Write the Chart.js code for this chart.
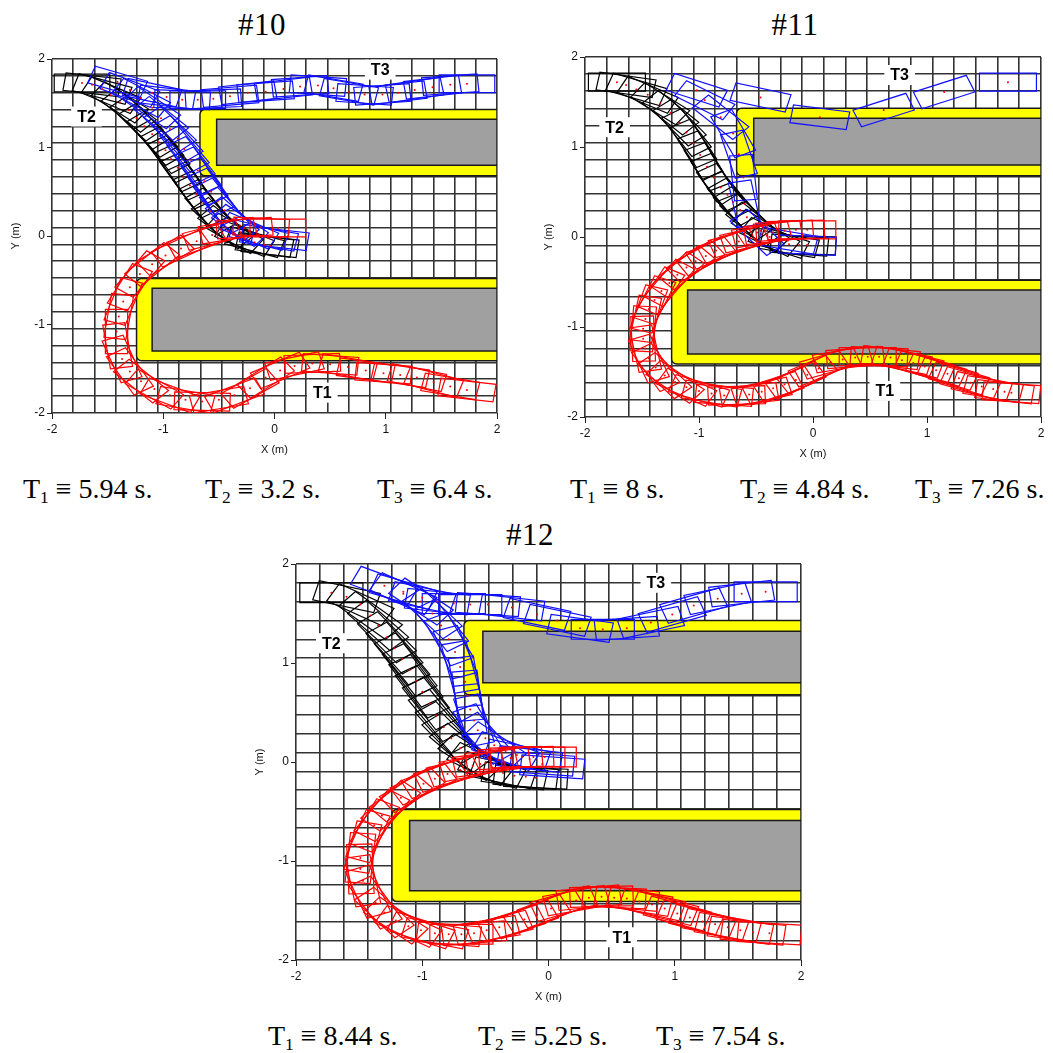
<!DOCTYPE html>
<html>
<head>
<meta charset="utf-8">
<script src="https://cdn.jsdelivr.net/npm/chart.js@4.4.1/dist/chart.umd.min.js"></script>
<style>
  body { margin: 0; background: #fff; }
  #page { position: relative; width: 1053px; height: 1053px; font-family: "Liberation Serif", "Times New Roman", serif; color: #000; }
  canvas { position: absolute; }
  .ttl, .cap { position: absolute; white-space: nowrap; }
  .ttl { transform: translateX(-50%); font-size: 31px; line-height: 31px; letter-spacing: 0.5px; }
  .cap { font-size: 28px; line-height: 28px; }
  .cap i { font-style: normal; font-size: 0.62em; position: relative; top: 0.3em; }
</style>
</head>
<body>
<div id="page">
  <div class="ttl" style="left:262px;top:9px">#10</div>
  <div class="ttl" style="left:795px;top:9px">#11</div>
  <div class="ttl" style="left:530px;top:519px">#12</div>

  <canvas id="run10" width="507" height="412" style="left:0px;top:49px"></canvas>
  <canvas id="run11" width="518" height="418" style="left:533px;top:47px"></canvas>
  <canvas id="run12" width="567" height="454" style="left:244px;top:554px"></canvas>

  <div class="cap" style="left:23px;top:475px">T<i>1</i> ≡ 5.94 s.</div>
  <div class="cap" style="left:205px;top:475px">T<i>2</i> ≡ 3.2 s.</div>
  <div class="cap" style="left:377px;top:475px">T<i>3</i> ≡ 6.4 s.</div>
  <div class="cap" style="left:570px;top:475px">T<i>1</i> ≡ 8 s.</div>
  <div class="cap" style="left:740px;top:475px">T<i>2</i> ≡ 4.84 s.</div>
  <div class="cap" style="left:915px;top:475px">T<i>3</i> ≡ 7.26 s.</div>
  <div class="cap" style="left:268px;top:1022px">T<i>1</i> ≡ 8.44 s.</div>
  <div class="cap" style="left:478px;top:1022px">T<i>2</i> ≡ 5.25 s.</div>
  <div class="cap" style="left:656px;top:1022px">T<i>3</i> ≡ 7.54 s.</div>
</div>
<script>
// vehicle footprint (m)
const CAR_LEN = 0.5;
const CAR_WID = 0.2;
const GRID_CELLS = 21;
const TAG_NAMES = ['T1', 'T2', 'T3'];

// obstacles [x0, y0, x1, y1] in metres
const WALL_OUTER = [[-0.67, 0.68, 2, 1.43], [-1.24, -1.41, 2, -0.48]];
const WALL_INNER = [[-0.52, 0.80, 2, 1.32], [-1.10, -1.30, 2, -0.59]];

// poses [x, y, heading in degrees]
const run10_T1 = [[0.03,0.09,0],[-0.12,0.10,-3],[-0.27,0.09,5],[-0.42,0.06,12],[-0.56,0.01,18],[-0.70,-0.06,24],[-0.84,-0.14,30],[-0.98,-0.22,37],[-1.10,-0.32,45],[-1.21,-0.43,55],[-1.30,-0.58,63],[-1.36,-0.74,72],[-1.40,-0.91,82],[-1.42,-1.08,90],[-1.41,-1.24,-82],[-1.37,-1.39,-70],[-1.30,-1.53,-60],[-1.20,-1.64,-45],[-1.08,-1.73,-35],[-0.94,-1.80,-25],[-0.80,-1.85,-12],[-0.65,-1.87,-2],[-0.50,-1.85,12],[-0.36,-1.80,25],[-0.22,-1.72,35],[-0.08,-1.60,38],[0.05,-1.52,28],[0.18,-1.47,15],[0.34,-1.44,3],[0.50,-1.45,-5],[0.66,-1.48,-12],[0.82,-1.52,-10],[0.98,-1.55,-5],[1.13,-1.57,-10],[1.28,-1.60,-14],[1.43,-1.65,-18],[1.58,-1.70,-12],[1.73,-1.74,-8]];
const run10_T2 = [[-1.73,1.73,0],[-1.64,1.71,-8],[-1.55,1.66,-18],[-1.47,1.59,-28],[-1.39,1.51,-38],[-1.31,1.42,-45],[-1.24,1.33,-50],[-1.17,1.24,-52],[-1.10,1.15,-53],[-1.04,1.06,-55],[-0.98,0.97,-57],[-0.93,0.87,-59],[-0.87,0.77,-60],[-0.82,0.67,-60],[-0.76,0.57,-60],[-0.70,0.47,-59],[-0.64,0.37,-58],[-0.58,0.28,-55],[-0.51,0.18,-50],[-0.44,0.10,-44],[-0.36,0.03,-36],[-0.27,-0.03,-27],[-0.18,-0.07,-18],[-0.09,-0.10,-10],[-0.04,-0.11,-8]];
const run10_T3 = [[0.05,-0.03,-8],[-0.05,-0.02,-12],[-0.14,0.01,-18],[-0.23,0.06,-28],[-0.31,0.12,-40],[-0.38,0.19,-48],[-0.45,0.29,-55],[-0.51,0.39,-58],[-0.57,0.50,-60],[-0.63,0.62,-60],[-0.69,0.74,-60],[-0.75,0.86,-58],[-0.81,0.98,-56],[-0.87,1.10,-54],[-0.94,1.21,-50],[-1.02,1.33,-45],[-1.10,1.45,-40],[-1.20,1.56,-33],[-1.30,1.65,-25],[-1.41,1.74,-20],
  [-1.10,1.62,-15],[-0.97,1.57,-8],[-0.83,1.54,-3],[-0.69,1.54,0],[-0.55,1.55,3],[-0.40,1.58,6],[-0.24,1.62,8],[-0.08,1.63,5],[0.08,1.66,8],[0.23,1.69,5],[0.39,1.70,-5],[0.53,1.67,-12],[0.67,1.63,-12],[0.81,1.60,-5],[0.97,1.60,5],[1.11,1.62,8],[1.26,1.65,10],[1.42,1.68,8],[1.58,1.71,5],[1.73,1.72,0]];

const run11_T1 = [[-0.05,0.08,0],[-0.15,0.08,2],[-0.25,0.07,4],[-0.35,0.05,8],[-0.45,0.03,12],[-0.55,-0.01,16],[-0.65,-0.05,20],[-0.75,-0.10,24],[-0.85,-0.15,28],[-0.94,-0.21,33],[-1.03,-0.27,38],[-1.11,-0.34,44],[-1.19,-0.42,50],[-1.26,-0.51,56],[-1.33,-0.60,62],[-1.39,-0.70,68],[-1.44,-0.80,74],[-1.47,-0.91,80],[-1.49,-1.02,86],[-1.49,-1.13,-88],[-1.47,-1.24,-80],[-1.44,-1.35,-70],[-1.38,-1.45,-60],[-1.30,-1.54,-50],[-1.21,-1.61,-40],[-1.11,-1.67,-30],[-1.00,-1.71,-20],[-0.89,-1.74,-12],[-0.78,-1.76,-5],[-0.67,-1.76,2],[-0.56,-1.75,8],[-0.45,-1.72,15],[-0.35,-1.68,22],[-0.25,-1.64,27],[-0.15,-1.59,30],[-0.05,-1.53,32],[0.05,-1.46,28],[0.15,-1.40,20],[0.26,-1.36,12],[0.37,-1.34,5],[0.48,-1.33,0],[0.58,-1.33,-3],[0.68,-1.34,-8],[0.78,-1.37,-14],[0.88,-1.40,-17],[0.98,-1.44,-19],[1.08,-1.48,-20],[1.18,-1.52,-21],[1.28,-1.57,-21],[1.38,-1.62,-20],[1.48,-1.66,-16],[1.58,-1.69,-12],[1.68,-1.72,-8],[1.74,-1.73,-5]];
const run11_T2 = [[-1.72,1.72,0],[-1.64,1.69,-10],[-1.55,1.64,-20],[-1.45,1.58,-28],[-1.34,1.48,-38],[-1.25,1.38,-45],[-1.17,1.27,-52],[-1.11,1.16,-58],[-1.05,1.04,-62],[-0.99,0.91,-64],[-0.93,0.78,-64],[-0.87,0.66,-63],[-0.81,0.55,-60],[-0.75,0.47,-57],[-0.70,0.39,-55],[-0.64,0.30,-52],[-0.58,0.22,-50],[-0.52,0.14,-46],[-0.46,0.07,-40],[-0.38,0.00,-32],[-0.30,-0.05,-22],[-0.21,-0.08,-12],[-0.12,-0.09,-5],[-0.05,-0.09,-2]];
const run11_T3 = [[-0.05,-0.09,-3],[-0.22,-0.04,-12],[-0.49,0.05,-50],[-0.60,0.37,-80],[-0.61,0.66,-85],[-0.65,0.92,-75],[-0.70,1.15,-65],[-0.81,1.33,-45],[-0.95,1.52,-32],[-1.02,1.63,-22],[-0.46,1.55,-15],[0.06,1.33,-9],[0.62,1.41,22],[1.15,1.61,22],[1.71,1.72,0]];

const run12_T1 = [[-0.03,0.05,0],[-0.12,0.05,0],[-0.21,0.05,2],[-0.30,0.04,4],[-0.40,0.02,7],[-0.50,-0.01,10],[-0.60,-0.04,14],[-0.70,-0.08,18],[-0.80,-0.12,22],[-0.90,-0.17,26],[-0.99,-0.22,31],[-1.08,-0.28,37],[-1.17,-0.36,43],[-1.25,-0.44,50],[-1.32,-0.54,57],[-1.38,-0.64,64],[-1.43,-0.75,71],[-1.47,-0.86,78],[-1.49,-0.97,85],[-1.49,-1.08,-88],[-1.47,-1.20,-80],[-1.43,-1.31,-70],[-1.37,-1.42,-60],[-1.30,-1.52,-50],[-1.21,-1.60,-40],[-1.11,-1.66,-30],[-1.01,-1.70,-22],[-0.90,-1.73,-14],[-0.79,-1.74,-6],[-0.69,-1.74,0],[-0.59,-1.73,6],[-0.49,-1.70,12],[-0.39,-1.67,18],[-0.29,-1.63,22],[-0.19,-1.59,25],[-0.09,-1.54,27],[0.02,-1.48,25],[0.12,-1.43,20],[0.22,-1.40,13],[0.32,-1.37,7],[0.42,-1.36,2],[0.52,-1.37,-3],[0.62,-1.38,-7],[0.72,-1.41,-12],[0.82,-1.44,-16],[0.92,-1.48,-18],[1.02,-1.53,-19],[1.12,-1.57,-19],[1.22,-1.61,-18],[1.32,-1.64,-15],[1.42,-1.67,-12],[1.52,-1.70,-10],[1.62,-1.72,-7],[1.75,-1.73,-4]];
const run12_T2 = [[-1.72,1.71,0],[-1.60,1.67,-15],[-1.49,1.59,-30],[-1.41,1.48,-42],[-1.35,1.38,-48],[-1.28,1.26,-52],[-1.22,1.15,-55],[-1.16,1.04,-57],[-1.10,0.93,-58],[-1.05,0.82,-59],[-1.00,0.71,-59],[-0.94,0.59,-58],[-0.89,0.47,-57],[-0.83,0.35,-55],[-0.77,0.24,-52],[-0.70,0.14,-47],[-0.62,0.05,-40],[-0.54,-0.02,-32],[-0.45,-0.08,-22],[-0.36,-0.11,-15],[-0.27,-0.14,-10],[-0.18,-0.15,-6],[-0.10,-0.16,-3]];
const run12_T3 = [[0.03,-0.05,-5],[-0.05,-0.02,-5],[-0.15,0.03,-8],[-0.25,0.07,-15],[-0.34,0.11,-25],[-0.43,0.17,-40],[-0.50,0.24,-55],[-0.56,0.32,-65],[-0.59,0.42,-75],[-0.62,0.53,-82],[-0.64,0.67,-84],[-0.66,0.81,-82],[-0.70,0.96,-78],[-0.74,1.11,-72],[-0.79,1.24,-65],[-0.85,1.38,-58],[-0.92,1.50,-50],[-1.01,1.62,-40],[-1.15,1.70,-30],[-1.30,1.78,-25],
  [-1.15,1.72,-20],[-1.00,1.66,-15],[-0.88,1.62,-8],[-0.75,1.60,0],[-0.62,1.59,0],[-0.48,1.59,-5],[-0.29,1.56,-8],[-0.09,1.49,-15],[0.07,1.43,-15],[0.25,1.35,-10],[0.43,1.34,0],[0.62,1.35,5],[0.81,1.41,15],[0.98,1.49,20],[1.15,1.58,20],[1.34,1.65,15],[1.53,1.70,8],[1.72,1.72,0]];

// label anchors for T1, T2, T3
const run10_tags = [[0.43,-1.77],[-1.69,1.35],[0.95,1.88]];
const run11_tags = [[0.63,-1.71],[-1.74,1.22],[0.76,1.80]];
const run12_tags = [[0.58,-1.77],[-1.72,1.20],[0.85,1.81]];

// obstacles, vehicle outlines and path labels
const fieldPlugin = {
  id: 'field',
  beforeDatasetsDraw(chart) {
    const {ctx, chartArea: area, scales: {x, y}} = chart;
    const px = v => x.getPixelForValue(v);
    const py = v => y.getPixelForValue(v);
    ctx.save();
    ctx.beginPath();
    ctx.rect(area.left, area.top, area.width, area.height);
    ctx.clip();

    ctx.lineWidth = 1.5;
    ctx.strokeStyle = '#1a1a1a';
    WALL_OUTER.forEach(r => {
      ctx.beginPath();
      ctx.roundRect(px(r[0]), py(r[3]), px(r[2]) - px(r[0]), py(r[1]) - py(r[3]), [5, 0, 0, 5]);
      ctx.fillStyle = '#ffff00';
      ctx.fill();
      ctx.stroke();
    });
    WALL_INNER.forEach(r => {
      ctx.beginPath();
      ctx.rect(px(r[0]), py(r[3]), px(r[2]) - px(r[0]), py(r[1]) - py(r[3]));
      ctx.fillStyle = '#a0a0a0';
      ctx.fill();
      ctx.stroke();
    });

    const hl = CAR_LEN / 2, hw = CAR_WID / 2;
    chart.data.datasets.forEach(ds => {
      ctx.strokeStyle = ds.outline;
      ctx.lineWidth = 1.2;
      ds.data.forEach(p => {
        const a = p.h * Math.PI / 180, c = Math.cos(a), s = Math.sin(a);
        ctx.beginPath();
        [[1, 1], [1, -1], [-1, -1], [-1, 1]].forEach(([i, j], k) => {
          const X = px(p.x + i * hl * c - j * hw * s);
          const Y = py(p.y + i * hl * s + j * hw * c);
          if (k) ctx.lineTo(X, Y); else ctx.moveTo(X, Y);
        });
        ctx.closePath();
        ctx.stroke();
      });
    });
    ctx.restore();
  },
  afterDatasetsDraw(chart, args, opts) {
    const {ctx, scales: {x, y}} = chart;
    ctx.save();
    ctx.font = 'bold 16px "Liberation Sans", Arial, sans-serif';
    ctx.textAlign = 'center';
    ctx.textBaseline = 'middle';
    opts.tags.forEach((t, i) => {
      const X = x.getPixelForValue(t[0]), Y = y.getPixelForValue(t[1]);
      const w = ctx.measureText(TAG_NAMES[i]).width + 12;
      ctx.fillStyle = '#ffffff';
      ctx.fillRect(X - w / 2, Y - 10, w, 20);
      ctx.fillStyle = '#000000';
      ctx.fillText(TAG_NAMES[i], X, Y + 1);
    });
    ctx.restore();
  }
};

const gridTicks = [];
for (let k = 0; k <= GRID_CELLS; k++) {
  gridTicks.push({value: +(-2 + 4 * k / GRID_CELLS).toFixed(6)});
}

function drawRun(id, t1, t2, t3, tags) {
  const pose = arr => arr.map(p => ({x: p[0], y: p[1], h: p[2]}));
  const tickFont = {family: '"Liberation Sans", Arial, sans-serif', size: 12};
  const axisFont = {family: '"Liberation Sans", Arial, sans-serif', size: 11};

  new Chart(document.getElementById(id), {
    type: 'scatter',
    data: {
      datasets: [
        {label: 'T2', data: pose(t2), outline: '#000000', xAxisID: 'x', yAxisID: 'y'},
        {label: 'T3', data: pose(t3), outline: '#1010ff', xAxisID: 'x', yAxisID: 'y'},
        {label: 'T1', data: pose(t1), outline: '#ff0000', xAxisID: 'x', yAxisID: 'y'}
      ]
    },
    options: {
      responsive: false,
      animation: false,
      events: [],
      layout: {padding: {left: 0, top: 10, right: 10, bottom: 0}},
      elements: {point: {radius: 1, backgroundColor: '#ff0000', borderWidth: 0}},
      plugins: {legend: {display: false}, tooltip: {enabled: false}, field: {tags: tags}},
      scales: {
        x: {
          type: 'linear', position: 'bottom', min: -2, max: 2, weight: 1,
          ticks: {stepSize: 1, font: tickFont, color: '#111', padding: 3, maxRotation: 0},
          grid: {drawOnChartArea: false, tickLength: 6, color: '#222'},
          border: {display: false},
          title: {display: true, text: 'X (m)', font: axisFont, color: '#111', padding: {top: 0, bottom: 4}},
          afterFit: s => { s.height = 48; }
        },
        y: {
          type: 'linear', position: 'left', min: -2, max: 2, weight: 1,
          ticks: {stepSize: 1, font: tickFont, color: '#111', padding: 2},
          grid: {drawOnChartArea: false, tickLength: 5, color: '#222'},
          border: {display: false},
          title: {display: true, text: 'Y (m)', font: axisFont, color: '#111', padding: {top: 9, bottom: 0}},
          afterFit: s => { s.width = 52; }
        },
        gx: {
          type: 'linear', position: 'bottom', min: -2, max: 2, weight: 0,
          afterBuildTicks: s => { s.ticks = gridTicks.map(t => ({value: t.value})); },
          ticks: {display: false},
          grid: {color: '#333', lineWidth: 1.6, drawTicks: false},
          border: {display: false},
          afterFit: s => { s.height = 0; }
        },
        gy: {
          type: 'linear', position: 'left', min: -2, max: 2, weight: 0,
          afterBuildTicks: s => { s.ticks = gridTicks.map(t => ({value: t.value})); },
          ticks: {display: false},
          grid: {color: '#333', lineWidth: 1.6, drawTicks: false},
          border: {display: false},
          afterFit: s => { s.width = 0; }
        }
      }
    },
    plugins: [fieldPlugin]
  });
}

drawRun('run10', run10_T1, run10_T2, run10_T3, run10_tags);
drawRun('run11', run11_T1, run11_T2, run11_T3, run11_tags);
drawRun('run12', run12_T1, run12_T2, run12_T3, run12_tags);
</script>
</body>
</html>
